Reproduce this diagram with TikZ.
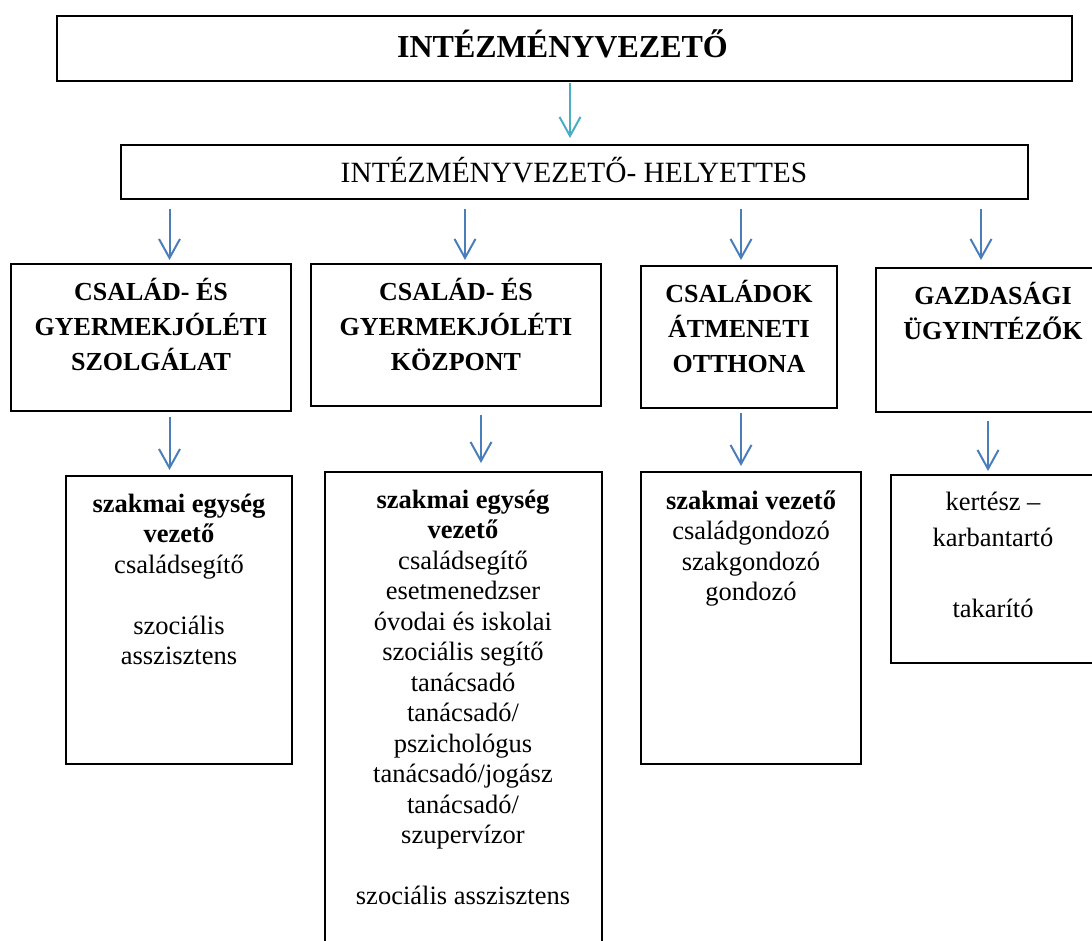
\documentclass[tikz,border=0pt]{standalone}
\usepackage{fontspec}
\setmainfont{Liberation Serif}
\usetikzlibrary{arrows.meta}
\definecolor{arrowblue}{HTML}{4A7EBB}
\definecolor{arrowteal}{HTML}{4BACC6}
\begin{document}
\begin{tikzpicture}[x=1pt,y=-1pt,
  box/.style={draw=black, line width=1.1pt, rectangle, inner sep=0pt, outer sep=0pt},
  txt/.style={inner sep=0pt, outer sep=0pt, align=center, anchor=north},
  ttl/.style={txt, font=\fontsize{26}{35}\selectfont\bfseries},
  bod/.style={txt, font=\fontsize{26.5}{30.5}\selectfont},
  arr/.style={draw=arrowblue, line width=2pt, -{Straight Barb[length=19pt,width=21pt]}},
]
\useasboundingbox (0,0) rectangle (1092,941);
\clip (0,0) rectangle (1092,941);

% boxes
\node[box, line width=2pt, minimum width=1015pt, minimum height=65pt] (top) at (564.5,48.5) {};
\node[box, minimum width=907pt, minimum height=54pt] (sub) at (574.5,172) {};
\node[box, minimum width=280pt, minimum height=147pt] (A) at (151,337.5) {};
\node[box, minimum width=290pt, minimum height=142pt] (B) at (456,335) {};
\node[box, minimum width=196pt, minimum height=142pt] (C) at (739,337) {};
\node[box, minimum width=234pt, minimum height=144pt] (D) at (993,340) {};
\node[box, minimum width=226pt, minimum height=288pt] (A2) at (179,620) {};
\node[box, minimum width=277pt, minimum height=488pt] (B2) at (463.5,716) {};
\node[box, minimum width=220pt, minimum height=292pt] (C2) at (751,618) {};
\node[box, minimum width=209pt, minimum height=188pt] (D2) at (995.5,569) {};

% texts
\node[inner sep=0pt, anchor=base, font=\fontsize{32}{38}\selectfont\bfseries] (ttop) at (562.5,58) {INTÉZMÉNYVEZETŐ};
\node[inner sep=0pt, anchor=base, font=\fontsize{29.4}{33}\selectfont] (tsub) at (574,183) {INTÉZMÉNYVEZETŐ- HELYETTES};

\node[ttl] (tA) at (151,275.5) {\strut CSALÁD- ÉS\\\strut GYERMEKJÓLÉTI\\\strut SZOLGÁLAT};
\node[ttl] (tB) at (456,275.5) {\strut CSALÁD- ÉS\\\strut GYERMEKJÓLÉTI\\\strut KÖZPONT};
\node[ttl] (tC) at (739,277.5) {\strut CSALÁDOK\\\strut ÁTMENETI\\\strut OTTHONA};
\node[ttl] (tD) at (993,279.5) {\strut GAZDASÁGI\\\strut ÜGYINTÉZŐK};

\node[bod] (tA2) at (179,490.7) {\strut\textbf{szakmai egység}\\\strut\textbf{vezető}\\\strut családsegítő\\\strut\\\strut szociális\\\strut asszisztens};
\node[bod] (tB2) at (463,486.7) {\strut\textbf{szakmai egység}\\\strut\textbf{vezető}\\\strut családsegítő\\\strut esetmenedzser\\\strut óvodai és iskolai\\\strut szociális segítő\\\strut tanácsadó\\\strut tanácsadó/\\\strut pszichológus\\\strut tanácsadó/jogász\\\strut tanácsadó/\\\strut szupervízor\\\strut\\\strut szociális asszisztens};
\node[bod] (tC2) at (751,487.7) {\strut\textbf{szakmai vezető}\\\strut családgondozó\\\strut szakgondozó\\\strut gondozó};
\node[txt, font=\fontsize{26.5}{35.5}\selectfont] (tD2) at (993,486) {\strut kertész –\\\strut karbantartó\\\strut\\\strut takarító};

% arrow x positions
\coordinate (x0) at (570,0);
\coordinate (x1a) at (169.5,0);
\coordinate (x1b) at (465,0);
\coordinate (x1c) at (741,0);
\coordinate (x1d) at (981,0);
\coordinate (x2a) at (169.5,0);
\coordinate (x2b) at (481,0);
\coordinate (x2c) at (741,0);
\coordinate (x2d) at (988,0);

% connectors
\draw[arr, draw=arrowteal, shorten <=2pt, shorten >=7pt] (top.south -| x0) -- (sub.north -| x0);
\draw[arr, shorten <=10pt, shorten >=4pt] (sub.south -| x1a) -- (A.north -| x1a);
\draw[arr, shorten <=10pt, shorten >=4pt] (sub.south -| x1b) -- (B.north -| x1b);
\draw[arr, shorten <=10pt, shorten >=6pt] (sub.south -| x1c) -- (C.north -| x1c);
\draw[arr, shorten <=10pt, shorten >=8pt] (sub.south -| x1d) -- (D.north -| x1d);
\draw[arr, shorten <=5.5pt, shorten >=6pt] (A.south -| x2a) -- (A2.north -| x2a);
\draw[arr, shorten <=9pt, shorten >=9pt] (B.south -| x2b) -- (B2.north -| x2b);
\draw[arr, shorten <=5pt, shorten >=6pt] (C.south -| x2c) -- (C2.north -| x2c);
\draw[arr, shorten <=9pt, shorten >=4pt] (D.south -| x2d) -- (D2.north -| x2d);
\end{tikzpicture}
\end{document}
